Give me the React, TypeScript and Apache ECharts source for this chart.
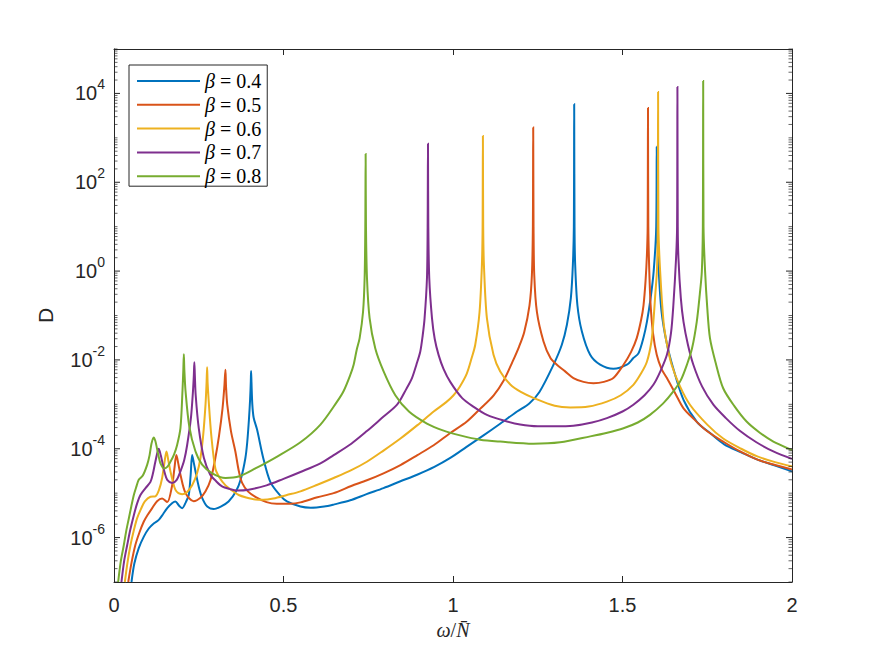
import React, { useEffect, useRef } from 'react';
import * as echarts from 'echarts';

const betaLabels = ['0.4', '0.5', '0.6', '0.7', '0.8'];
const colors = ['#0072BD', '#D95319', '#EDB120', '#7E2F8E', '#77AC30'];
const xTicks = [0, 0.5, 1, 1.5, 2];
const yLabelExponents = [-6, -4, -2, 0, 2, 4];
const yDecadeRange = [-7, 5];
const minorMultipliers = [1, 2, 3, 4, 5, 6, 7, 8, 9];

const beta04: [number, number][] = [
  [0.0516, 1.0e-7], [0.06, 2.6e-7], [0.073, 5.8e-7], [0.088, 1.05e-6], [0.1026, 1.6e-6],
  [0.118, 2.1e-6], [0.132, 2.5e-6], [0.145, 3.4e-6], [0.157, 4.6e-6], [0.172, 6.0e-6],
  [0.181, 6.5e-6], [0.192, 5.2e-6], [0.201, 4.6e-6], [0.212, 6.3e-6], [0.2205, 9.1e-6],
  [0.226, 2.5e-5], [0.2305, 7.2e-5], [0.235, 5.0e-5], [0.24, 3.2e-5], [0.25, 1.4e-5],
  [0.26, 7.8e-6], [0.275, 5.0e-6], [0.294, 4.4e-6], [0.315, 5.0e-6], [0.338, 6.5e-6],
  [0.36, 1.1e-5], [0.375, 2.2e-5], [0.3876, 6.2e-5], [0.393, 1.4e-4], [0.398, 4.5e-4],
  [0.4015, 1.3e-3], [0.4035, 3.2e-3], [0.4044, 5.6e-3], [0.4055, 3.2e-3], [0.408, 1.0e-3],
  [0.412, 5.0e-4], [0.422, 2.7e-4], [0.44, 6.3e-5], [0.461, 1.8e-5], [0.49, 8.9e-6],
  [0.51, 6.5e-6], [0.55, 5.0e-6], [0.58, 4.7e-6], [0.62, 5.0e-6], [0.65, 5.6e-6],
  [0.697, 6.9e-6], [0.745, 9.5e-6], [0.795, 1.3e-5], [0.845, 1.85e-5], [0.894, 2.6e-5],
  [0.945, 3.9e-5], [0.992, 6.2e-5], [1.04, 1.1e-4], [1.09, 2.0e-4], [1.14, 3.7e-4],
  [1.189, 6.9e-4], [1.225, 1.05e-3], [1.255, 1.9e-3], [1.2964, 7.8e-3], [1.321, 2.2e-2],
  [1.336, 6.2e-2], [1.3477, 0.25], [1.3536, 1.4], [1.3565, 10], [1.3575, 5.7e3],
  [1.3585, 10], [1.3604, 1.4], [1.367, 0.17], [1.38, 4.4e-2], [1.4046, 1.3e-2],
  [1.434, 7.8e-3], [1.473, 6.3e-3], [1.513, 7.8e-3], [1.532, 1.1e-2], [1.547, 1.4e-2],
  [1.562, 3.2e-2], [1.572, 7.2e-2], [1.583, 0.25], [1.592, 1.0], [1.5995, 10],
  [1.601, 6.3e2], [1.6025, 10], [1.607, 1.0], [1.615, 0.126], [1.63, 2.5e-2],
  [1.65, 6.3e-3], [1.68, 1.26e-3], [1.72, 4.0e-4], [1.76, 2.2e-4], [1.8, 1.26e-4],
  [1.85, 8.3e-5], [1.9, 5.6e-5], [1.95, 4.2e-5], [2.0, 3.1e-5],
];

const beta05: [number, number][] = [
  [0.042, 1.0e-7], [0.052, 2.8e-7], [0.063, 6.8e-7], [0.075, 1.3e-6], [0.088, 2.3e-6],
  [0.1, 3.3e-6], [0.1126, 4.6e-6], [0.127, 6.6e-6], [0.142, 7.6e-6], [0.157, 6.3e-6],
  [0.1715, 1.5e-5], [0.178, 3.5e-5], [0.184, 7.2e-5], [0.19, 4.5e-5], [0.196, 2.6e-5],
  [0.211, 1.0e-5], [0.235, 6.6e-6], [0.255, 7.9e-6], [0.27, 1.1e-5], [0.285, 2.0e-5],
  [0.299, 6.2e-5], [0.31, 2.0e-4], [0.32, 7.9e-4], [0.3255, 2.5e-3], [0.3287, 6.0e-3],
  [0.3305, 2.5e-3], [0.334, 1.0e-3], [0.345, 2.5e-4], [0.358, 8.7e-5], [0.368, 3.2e-5],
  [0.378, 1.7e-5], [0.395, 1.1e-5], [0.417, 8.3e-6], [0.45, 6.3e-6], [0.48, 5.8e-6],
  [0.52, 5.8e-6], [0.55, 6.2e-6], [0.6, 8.1e-6], [0.648, 1.0e-5], [0.7, 1.45e-5],
  [0.746, 1.95e-5], [0.795, 2.8e-5], [0.845, 4.3e-5], [0.895, 7.2e-5], [0.943, 1.2e-4],
  [0.99, 2.2e-4], [1.041, 4.1e-4], [1.08, 7.9e-4], [1.12, 1.6e-3], [1.15, 3.5e-3],
  [1.175, 8.9e-3], [1.195, 2.0e-2], [1.21, 4.2e-2], [1.2257, 0.17], [1.2327, 0.81],
  [1.2356, 10], [1.2366, 1.7e3], [1.2376, 10], [1.2397, 0.81], [1.2475, 0.12],
  [1.267, 2.6e-2], [1.2875, 1.1e-2], [1.3064, 7.8e-3], [1.33, 5.6e-3], [1.3553, 3.9e-3],
  [1.385, 3.2e-3], [1.4143, 3.0e-3], [1.445, 3.2e-3], [1.473, 3.9e-3], [1.503, 7.8e-3],
  [1.525, 1.5e-2], [1.542, 3.1e-2], [1.555, 8.0e-2], [1.562, 0.17], [1.568, 0.6],
  [1.572, 2.3], [1.5742, 10], [1.5752, 4.7e3], [1.5762, 10], [1.579, 1.0],
  [1.583, 0.17], [1.59, 4.0e-2], [1.601, 1.3e-2], [1.615, 6.3e-3], [1.631, 3.9e-3],
  [1.655, 1.8e-3], [1.68, 8.1e-4], [1.71, 4.7e-4], [1.749, 2.5e-4], [1.8, 1.4e-4],
  [1.847, 8.7e-5], [1.9, 5.6e-5], [1.95, 4.3e-5], [2.0, 3.4e-5],
];

const beta06: [number, number][] = [
  [0.032, 1.0e-7], [0.04, 2.8e-7], [0.0487, 6.8e-7], [0.058, 1.4e-6], [0.068, 2.7e-6],
  [0.08, 4.5e-6], [0.091, 6.5e-6], [0.1076, 8.3e-6], [0.122, 8.5e-6], [0.133, 1.2e-5],
  [0.142, 2.2e-5], [0.149, 5.0e-5], [0.1548, 8.7e-5], [0.16, 5.6e-5], [0.1665, 3.1e-5],
  [0.173, 1.9e-5], [0.181, 1.2e-5], [0.19, 1.0e-5], [0.201, 9.5e-6], [0.215, 1.05e-5],
  [0.2305, 1.5e-5], [0.245, 2.8e-5], [0.255, 6.2e-5], [0.263, 2.0e-4], [0.27, 1.0e-3],
  [0.273, 3.0e-3], [0.2747, 6.8e-3], [0.2762, 3.0e-3], [0.279, 1.3e-3], [0.287, 2.0e-4],
  [0.299, 3.6e-5], [0.312, 2.2e-5], [0.329, 1.5e-5], [0.348, 1.15e-5], [0.368, 9.1e-6],
  [0.39, 8.0e-6], [0.417, 7.2e-6], [0.44, 7.1e-6], [0.47, 7.6e-6], [0.51, 9.1e-6],
  [0.55, 1.1e-5], [0.6, 1.55e-5], [0.648, 2.2e-5], [0.7, 3.3e-5], [0.746, 5.1e-5],
  [0.795, 9.1e-5], [0.845, 1.7e-4], [0.895, 3.4e-4], [0.943, 6.9e-4], [0.98, 1.12e-3],
  [1.0016, 1.6e-3], [1.02, 2.5e-3], [1.041, 5.0e-3], [1.055, 1.1e-2], [1.0656, 2.2e-2],
  [1.0783, 0.12], [1.0853, 1.4], [1.0873, 10], [1.0882, 1.1e3], [1.0891, 10],
  [1.0912, 1.4], [1.1, 8.7e-2], [1.1195, 1.3e-2], [1.1393, 5.5e-3], [1.169, 2.8e-3],
  [1.2, 1.9e-3], [1.237, 1.4e-3], [1.3, 9.3e-4], [1.346, 8.5e-4], [1.4, 8.9e-4],
  [1.454, 1.15e-3], [1.495, 1.6e-3], [1.532, 2.75e-3], [1.555, 5.0e-3], [1.572, 9.1e-3],
  [1.585, 2.5e-2], [1.591, 7.2e-2], [1.597, 0.32], [1.6015, 1.0], [1.604, 10],
  [1.605, 1.07e4], [1.606, 10], [1.611, 1.0], [1.621, 7.2e-2], [1.63, 2.5e-2],
  [1.645, 7.8e-3], [1.67, 2.5e-3], [1.699, 9.8e-4], [1.75, 3.5e-4], [1.797, 1.7e-4],
  [1.85, 1.0e-4], [1.896, 6.8e-5], [1.95, 5.0e-5], [2.0, 4.0e-5],
];

const beta07: [number, number][] = [
  [0.022, 1.0e-7], [0.03, 3.0e-7], [0.039, 6.8e-7], [0.048, 1.5e-6], [0.0585, 3.2e-6],
  [0.068, 5.8e-6], [0.078, 9.1e-6], [0.093, 1.3e-5], [0.1076, 1.8e-5], [0.115, 2.8e-5],
  [0.122, 5.1e-5], [0.132, 1.0e-4], [0.138, 7.1e-5], [0.144, 4.4e-5], [0.15, 2.8e-5],
  [0.157, 2.0e-5], [0.1715, 1.7e-5], [0.185, 2.0e-5], [0.196, 3.1e-5], [0.207, 5.5e-5],
  [0.2157, 1.2e-4], [0.227, 5.0e-4], [0.233, 2.0e-3], [0.2355, 4.5e-3], [0.237, 8.9e-3],
  [0.2385, 4.5e-3], [0.241, 1.6e-3], [0.25, 2.9e-4], [0.265, 6.3e-5], [0.284, 2.6e-5],
  [0.3, 1.9e-5], [0.32, 1.4e-5], [0.34, 1.25e-5], [0.363, 1.15e-5], [0.397, 1.2e-5],
  [0.45, 1.5e-5], [0.5, 2.1e-5], [0.55, 3.0e-5], [0.609, 4.7e-5], [0.648, 7.2e-5],
  [0.7, 1.3e-4], [0.746, 2.5e-4], [0.79, 4.9e-4], [0.835, 9.8e-4], [0.862, 2.2e-3],
  [0.879, 3.9e-3], [0.892, 7.8e-3], [0.9035, 1.55e-2], [0.9105, 3.5e-2], [0.9162, 8.7e-2],
  [0.9232, 0.69], [0.9252, 10], [0.9262, 7.4e2], [0.9272, 10], [0.93, 0.69],
  [0.938, 8.7e-2], [0.946, 3.0e-2], [0.9574, 1.3e-2], [0.972, 6.3e-3], [0.9919, 3.2e-3],
  [1.0264, 1.4e-3], [1.06, 8.9e-4], [1.1, 5.8e-4], [1.15, 4.3e-4], [1.198, 3.5e-4],
  [1.25, 3.2e-4], [1.3, 3.2e-4], [1.355, 3.3e-4], [1.41, 3.9e-4], [1.454, 4.9e-4],
  [1.5, 6.9e-4], [1.532, 9.8e-4], [1.565, 1.6e-3], [1.591, 2.75e-3], [1.612, 5.6e-3],
  [1.631, 1.3e-2], [1.643, 4.0e-2], [1.65, 0.17], [1.658, 1.95], [1.661, 10],
  [1.662, 1.4e4], [1.663, 10], [1.665, 1.95], [1.672, 0.25], [1.68, 7.2e-2],
  [1.693, 2.2e-2], [1.709, 7.8e-3], [1.735, 2.5e-3], [1.768, 9.8e-4], [1.805, 4.9e-4],
  [1.847, 2.5e-4], [1.895, 1.4e-4], [1.945, 8.7e-5], [2.0, 5.9e-5],
];

const beta08: [number, number][] = [
  [0.0123, 1.0e-7], [0.02, 2.9e-7], [0.029, 6.8e-7], [0.036, 1.4e-6], [0.0437, 2.7e-6],
  [0.051, 5.0e-6], [0.0585, 9.1e-6], [0.066, 1.4e-5], [0.073, 2.0e-5], [0.085, 2.5e-5],
  [0.098, 4.4e-5], [0.105, 7.2e-5], [0.1105, 1.3e-4], [0.117, 1.8e-4], [0.122, 1.5e-4],
  [0.127, 1.0e-4], [0.132, 6.6e-5], [0.137, 4.7e-5], [0.147, 3.6e-5], [0.157, 3.9e-5],
  [0.1665, 5.1e-5], [0.177, 7.4e-5], [0.186, 1.2e-4], [0.196, 2.9e-4], [0.202, 2.0e-3],
  [0.2045, 6.0e-3], [0.206, 1.35e-2], [0.2075, 6.0e-3], [0.211, 2.0e-3], [0.222, 3.2e-4],
  [0.24, 8.9e-5], [0.26, 4.4e-5], [0.29, 2.8e-5], [0.329, 2.2e-5], [0.37, 2.4e-5],
  [0.417, 3.6e-5], [0.48, 6.6e-5], [0.55, 1.4e-4], [0.609, 3.5e-4], [0.658, 1.15e-3],
  [0.6774, 2.0e-3], [0.697, 4.6e-3], [0.7069, 7.8e-3], [0.716, 1.7e-2], [0.7246, 3.1e-2],
  [0.7346, 0.12], [0.7393, 0.69], [0.7413, 10], [0.7423, 4.3e2], [0.7433, 10],
  [0.7463, 0.69], [0.754, 8.7e-2], [0.7708, 1.8e-2], [0.7953, 5.5e-3], [0.8298, 1.6e-3],
  [0.87, 6.9e-4], [0.923, 3.7e-4], [0.97, 2.6e-4], [1.021, 2.0e-4], [1.08, 1.6e-4],
  [1.139, 1.45e-4], [1.237, 1.3e-4], [1.316, 1.4e-4], [1.405, 1.9e-4], [1.455, 2.3e-4],
  [1.503, 2.9e-4], [1.545, 3.9e-4], [1.581, 5.8e-4], [1.62, 1.05e-3], [1.65, 1.95e-3],
  [1.672, 3.5e-3], [1.69, 7.8e-3], [1.705, 1.8e-2], [1.719, 7.2e-2], [1.728, 0.3],
  [1.734, 0.98], [1.737, 10], [1.738, 1.9e4], [1.739, 10], [1.7436, 1.0],
  [1.75, 0.15], [1.758, 3.1e-2], [1.775, 8.5e-3], [1.797, 2.3e-3], [1.83, 9.1e-4],
  [1.866, 4.1e-4], [1.905, 2.3e-4], [1.945, 1.45e-4], [2.0, 9.3e-5],
];

const seriesData = [beta04, beta05, beta06, beta07, beta08];

const AXIS = '#262626';
const SANS = '"Liberation Sans", Arial, sans-serif';
const SERIF = '"Liberation Serif", "Times New Roman", serif';

export default function App() {
  const ref = useRef<HTMLDivElement>(null);

  useEffect(() => {
    if (!ref.current) return;
    const chart = echarts.init(ref.current, undefined, { renderer: 'svg' });

    const tickData: number[][] = [];
    for (let k = yDecadeRange[0]; k < yDecadeRange[1]; k++) {
      for (const m of minorMultipliers) {
        const major = m === 1 && yLabelExponents.includes(k) ? 1 : 0;
        tickData.push([0, m * Math.pow(10, k), major]);
      }
    }
    tickData.push([0, Math.pow(10, yDecadeRange[1]), 0]);

    const names = betaLabels.map((b) => 'β = ' + b);

    const lineSeries = seriesData.map((d, i) => ({
      type: 'line',
      name: names[i],
      data: d,
      xAxisIndex: 0,
      yAxisIndex: 0,
      symbol: 'none',
      showSymbol: false,
      smooth: 0.3,
      lineStyle: { width: 2, color: colors[i], join: 'miter', miterLimit: 2 },
      itemStyle: { color: colors[i] },
      z: 2 + i,
    }));

    const option: any = {
      animation: false,
      backgroundColor: '#ffffff',
      grid: { left: 114, right: 83, top: 49, bottom: 74, containLabel: false },
      legend: {
        data: names,
        orient: 'vertical',
        left: 129,
        top: 65,
        itemWidth: 63,
        itemHeight: 14,
        itemGap: 3.8,
        padding: [6, 6, 0, 7],
        backgroundColor: '#ffffff',
        borderColor: AXIS,
        borderWidth: 1,
        borderRadius: 0,
        itemStyle: { opacity: 0, borderWidth: 0 },
        formatter: (name: string) => {
          const v = name.split('= ')[1];
          return '{i|β}{t| = ' + v + '}';
        },
        textStyle: {
          color: '#000',
          fontFamily: SERIF,
          fontSize: 20,
          rich: {
            i: { fontFamily: SERIF, fontStyle: 'italic', fontSize: 20, color: '#000' },
            t: { fontFamily: SERIF, fontSize: 20, color: '#000' },
          },
        },
      },
      xAxis: [
        {
          type: 'value',
          position: 'bottom',
          min: xTicks[0],
          max: xTicks[xTicks.length - 1],
          interval: 0.5,
          axisLine: { show: true, onZero: false, lineStyle: { color: AXIS, width: 1 } },
          axisTick: { show: true, inside: true, length: 6, lineStyle: { color: AXIS, width: 1 } },
          axisLabel: {
            show: true,
            margin: 13,
            color: AXIS,
            fontFamily: SANS,
            fontSize: 20,
            formatter: (v: number) => String(v),
          },
          splitLine: { show: false },
          name: '{i|ω}{u|/}{i|N\u0304}',
          nameLocation: 'middle',
          nameGap: 38,
          nameTextStyle: {
            color: AXIS,
            fontFamily: SERIF,
            fontSize: 20,
            rich: {
              i: { fontFamily: SERIF, fontStyle: 'italic', fontSize: 20, color: AXIS },
              u: { fontFamily: SERIF, fontSize: 20, color: AXIS },
            },
          },
        },
        {
          type: 'value',
          position: 'top',
          min: xTicks[0],
          max: xTicks[xTicks.length - 1],
          interval: 0.5,
          axisLine: { show: true, onZero: false, lineStyle: { color: AXIS, width: 1 } },
          axisTick: { show: true, inside: true, length: 6, lineStyle: { color: AXIS, width: 1 } },
          axisLabel: { show: false },
          splitLine: { show: false },
        },
      ],
      yAxis: [
        {
          type: 'log',
          logBase: 10,
          position: 'left',
          min: Math.pow(10, yDecadeRange[0]),
          max: Math.pow(10, yDecadeRange[1]),
          interval: 1,
          axisLine: { show: true, onZero: false, lineStyle: { color: AXIS, width: 1 } },
          axisTick: { show: false },
          splitLine: { show: false },
          axisLabel: {
            show: true,
            margin: 9,
            color: AXIS,
            fontFamily: SANS,
            formatter: (v: number) => {
              const e = Math.round(Math.log10(v));
              if (!yLabelExponents.includes(e)) return '';
              return '{b|10}{e|' + e + '}';
            },
            rich: {
              b: { fontFamily: SANS, fontSize: 20, lineHeight: 20, verticalAlign: 'bottom', color: AXIS },
              e: {
                fontFamily: SANS,
                fontSize: 14,
                lineHeight: 14,
                verticalAlign: 'bottom',
                padding: [0, 0, 12, 0],
                color: AXIS,
              },
            },
          },
          name: 'D',
          nameLocation: 'middle',
          nameGap: 58,
          nameRotate: 90,
          nameTextStyle: { color: AXIS, fontFamily: SANS, fontSize: 21 },
        },
        {
          type: 'log',
          logBase: 10,
          position: 'right',
          min: Math.pow(10, yDecadeRange[0]),
          max: Math.pow(10, yDecadeRange[1]),
          interval: 1,
          axisLine: { show: true, onZero: false, lineStyle: { color: AXIS, width: 1 } },
          axisTick: { show: false },
          axisLabel: { show: false },
          splitLine: { show: false },
        },
      ],
      series: [
        ...lineSeries,
        {
          type: 'custom',
          name: 'yticks',
          xAxisIndex: 0,
          yAxisIndex: 0,
          silent: true,
          clip: false,
          z: 10,
          encode: { x: 0, y: 1 },
          data: tickData,
          renderItem: (params: any, api: any) => {
            const v = api.value(1);
            const major = api.value(2) === 1;
            const len = major ? 6 : 3.5;
            const a = api.coord([xTicks[0], v]);
            const b = api.coord([xTicks[xTicks.length - 1], v]);
            const st = { stroke: AXIS, lineWidth: major ? 1 : 0.7 };
            return {
              type: 'group',
              children: [
                { type: 'line', shape: { x1: a[0], y1: a[1], x2: a[0] + len, y2: a[1] }, style: st },
                { type: 'line', shape: { x1: b[0] - len, y1: b[1], x2: b[0], y2: b[1] }, style: st },
              ],
            };
          },
        },
      ],
    };

    chart.setOption(option);
    return () => {
      chart.dispose();
    };
  }, []);

  return (
    <div
      ref={ref}
      style={{ position: 'fixed', left: 0, top: 0, width: 875, height: 656, background: '#fff' }}
    />
  );
}
